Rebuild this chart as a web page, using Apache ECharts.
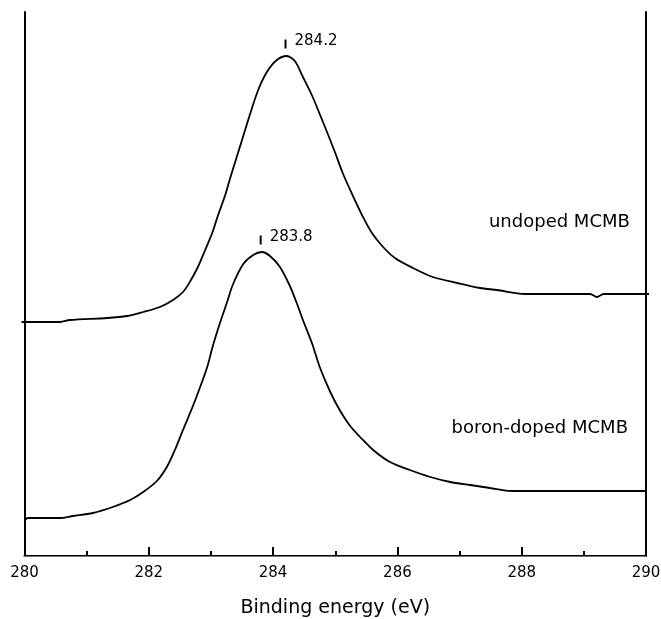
<!DOCTYPE html>
<html>
<head>
<meta charset="utf-8">
<script src="https://cdn.jsdelivr.net/npm/echarts@6/dist/echarts.min.js"></script>
<style>
  html, body { margin: 0; padding: 0; background: #fff; }
  #chart { width: 661px; height: 619px; }
</style>
</head>
<body>
<div id="chart"></div>
<script>
// binding energy (eV) and intensity (arb. units)
const undopedEnergy = [280.00, 280.57, 280.73, 281.33, 281.65, 281.91, 282.18, 282.39, 282.55, 282.66,
  282.79, 282.90, 283.02, 283.11, 283.23, 283.31, 283.42, 283.52, 283.63, 283.76,
  283.90, 284.06, 284.22, 284.35, 284.48, 284.63, 284.75, 284.88, 285.00, 285.12,
  285.27, 285.43, 285.59, 285.77, 285.96, 286.25, 286.57, 286.96, 287.33, 287.60,
  288.05, 289.10, 289.21, 289.32, 290.00];
const undopedIntensity = [234, 234, 236, 238, 240, 244, 249, 256, 264, 274,
  289, 305, 323, 340, 361, 378, 400, 420, 442, 466,
  484, 496, 500, 495, 479, 460, 442, 422, 403, 383,
  362, 341, 323, 309, 298, 288, 279, 273, 268, 266,
  262, 262, 259, 262, 262];

const boronEnergy = [280.00, 280.05, 280.57, 280.78, 281.10, 281.42, 281.70, 281.91, 282.13, 282.29,
  282.42, 282.55, 282.71, 282.82, 282.94, 283.03, 283.15, 283.26, 283.35, 283.52,
  283.68, 283.82, 283.95, 284.11, 284.27, 284.38, 284.48, 284.63, 284.75, 284.92,
  285.08, 285.24, 285.40, 285.61, 285.88, 286.20, 286.53, 286.85, 287.17, 287.49,
  287.84, 290.00];
const boronIntensity = [35, 38, 38, 40, 43, 49, 56, 64, 75, 89,
  106, 126, 150, 168, 189, 210, 234, 254, 271, 292,
  301, 304, 300, 289, 270, 253, 236, 212, 189, 164,
  145, 130, 119, 106, 94, 86, 79, 74, 71, 68,
  65, 65];

// peak markers
const peakEnergy = [284.2, 283.8];
const peakMarkY = [512, 316];
const peakText = ['284.2', '283.8'];

// curve names
const curveText = ['undoped MCMB', 'boron-doped MCMB'];
const curveTextX = [289.74, 289.71];
const curveTextY = [334, 128];

// baseline ticks on the frame
const leftBaseline = [234];
const rightBaseline = [262];

const font = 'DejaVu Sans';

const chart = echarts.init(document.getElementById('chart'));

const peakLabel = {
  show: true,
  position: 'right',
  distance: 8,
  offset: [0, -3],
  color: '#000',
  opacity: 1,
  textBorderWidth: 0,
  fontSize: 15,
  fontFamily: font,
};

const nameLabel = {
  show: true,
  position: 'left',
  distance: 0,
  color: '#000',
  opacity: 1,
  textBorderWidth: 0,
  fontSize: 18,
  fontFamily: font,
};

const option = {
  animation: false,
  grid: { left: 24.5, right: 15, top: 12, bottom: 63, outerBoundsMode: 'none' },
  xAxis: [
    {
      type: 'value',
      position: 'bottom',
      min: 280,
      max: 290,
      interval: 2,
      axisLine: { lineStyle: { color: '#000', width: 2 } },
      axisTick: { inside: true, length: 9, lineStyle: { color: '#000', width: 2 } },
      minorTick: { show: true, splitNumber: 2, length: 5, lineStyle: { color: '#000', width: 2 } },
      splitLine: { show: false },
      minorSplitLine: { show: false },
      axisLabel: { color: '#000', fontSize: 15, fontFamily: font, margin: 10 },
      name: 'Binding energy (eV)',
      nameLocation: 'middle',
      nameGap: 43,
      nameTextStyle: { color: '#000', fontSize: 19, fontFamily: font },
    },
    {
      type: 'value',
      position: 'top',
      min: 280,
      max: 290,
      axisLine: { show: true, lineStyle: { color: '#777', width: 1 } },
      axisTick: { show: false },
      axisLabel: { show: false },
      splitLine: { show: false },
    },
  ],
  yAxis: [
    {
      type: 'value',
      position: 'left',
      min: 0,
      max: 544,
      axisLine: { show: true, lineStyle: { color: '#000', width: 2 } },
      axisTick: { show: true, customValues: leftBaseline, length: 3, lineStyle: { color: '#000', width: 2 } },
      axisLabel: { show: false },
      splitLine: { show: false },
    },
    {
      type: 'value',
      position: 'right',
      min: 0,
      max: 544,
      axisLine: { show: true, lineStyle: { color: '#000', width: 2 } },
      axisTick: { show: true, customValues: rightBaseline, length: 3, lineStyle: { color: '#000', width: 2 } },
      axisLabel: { show: false },
      splitLine: { show: false },
    },
  ],
  series: [
    {
      name: 'undoped MCMB',
      type: 'line',
      showSymbol: false,
      smooth: 0.3,
      data: undopedEnergy.map((e, i) => [e, undopedIntensity[i]]),
      lineStyle: { color: '#000', width: 1.8 },
    },
    {
      name: 'boron-doped MCMB',
      type: 'line',
      showSymbol: false,
      smooth: 0.3,
      data: boronEnergy.map((e, i) => [e, boronIntensity[i]]),
      lineStyle: { color: '#000', width: 1.8 },
    },
    {
      name: 'peaks',
      type: 'scatter',
      symbol: 'rect',
      symbolSize: [2, 9],
      itemStyle: { color: '#000', opacity: 1 },
      data: peakEnergy.map((e, i) => ({
        value: [e, peakMarkY[i]],
        label: Object.assign({}, peakLabel, { formatter: peakText[i] }),
      })),
      label: peakLabel,
    },
    {
      name: 'curve names',
      type: 'scatter',
      symbolSize: 0,
      data: curveText.map((t, i) => ({
        value: [curveTextX[i], curveTextY[i]],
        label: Object.assign({}, nameLabel, { formatter: t }),
      })),
      label: nameLabel,
    },
  ],
};

chart.setOption(option);
</script>
</body>
</html>
